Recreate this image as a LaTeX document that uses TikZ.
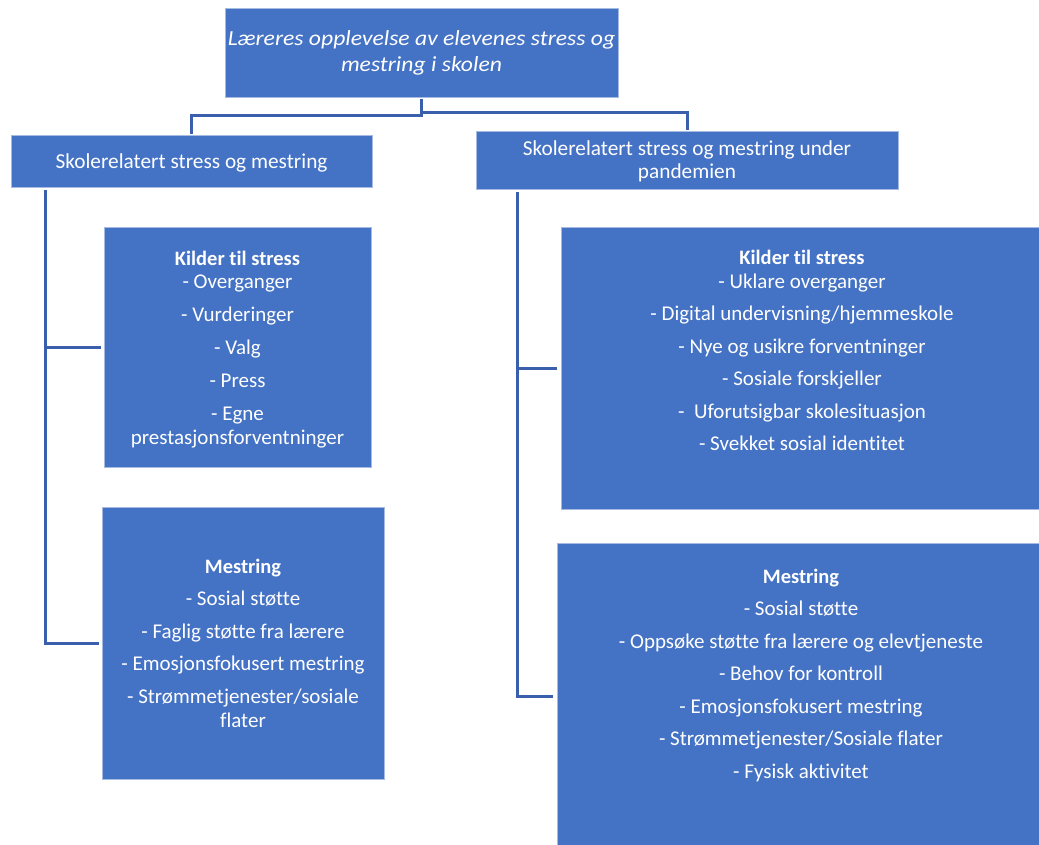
\documentclass[tikz,border=0pt]{standalone}
\usepackage{fontspec}
\setmainfont[Ligatures=NoCommon]{Carlito}
\usetikzlibrary{calc}
\definecolor{boxblue}{HTML}{4472C4}
\definecolor{boxedge}{RGB}{165,187,226}
\definecolor{linkblue}{RGB}{58,95,172}
\tikzset{
  box/.style={fill=boxblue, draw=boxedge, line width=0.8pt, inner sep=0pt, outer sep=0pt, anchor=north west},
  txt/.style={text=white, align=center, inner sep=0pt, anchor=north, font=\fontsize{21}{24}\selectfont},
  conn/.style={draw=linkblue, line width=3pt}
}
\newcommand{\fl}{\rule{0pt}{17pt}}
\newcommand{\ttl}[1]{{\fontsize{20.5}{24}\selectfont\bfseries #1}}
\begin{document}
\begin{tikzpicture}[x=1pt,y=-1pt]
\clip (0,0) rectangle (1039,844);
\fill[white] (0,0) rectangle (1039,844);
% boxes
\node[box, minimum width=393pt, minimum height=89pt] (top) at (225,8) {};
\node[box, minimum width=361pt, minimum height=52pt] (h1) at (11,135) {};
\node[box, minimum width=422pt, minimum height=58pt] (h2) at (476,131) {};
\node[box, minimum width=267pt, minimum height=240pt] (k1) at (104,227) {};
\node[box, minimum width=282pt, minimum height=272pt] (m1) at (102,507) {};
\node[box, minimum width=483pt, minimum height=282pt] (k2) at (561,227) {};
\node[box, minimum width=489pt, minimum height=306pt] (m2) at (557,543) {};
% texts
\node[txt, font=\fontsize{21.5}{24}\selectfont\itshape\addfontfeature{FakeStretch=1.1}] (ttop) at (421.5,28)
  {\fl Læreres opplevelse av elevenes stress og\\[2pt] mestring i skolen};
\node[txt, font=\fontsize{21.3}{24}\selectfont] (th1) at (191.5,151) {\fl Skolerelatert stress og mestring};
\node[txt, font=\fontsize{21.3}{24}\selectfont] (th2) at (687,138) {\fl Skolerelatert stress og mestring under\\[-1pt] pandemien};
\node[txt] (tk1) at (237.5,248)
  {\fl\ttl{Kilder til stress}\\[-1pt]
   - Overganger\\[9pt]
   - Vurderinger\\[9pt]
   - Valg\\[9pt]
   - Press\\[9pt]
   - Egne\\
   prestasjonsforventninger};
\node[txt] (tm1) at (243,556)
  {\fl\ttl{Mestring}\\[8.5pt]
   - Sosial støtte\\[8.5pt]
   - Faglig støtte fra lærere\\[8.5pt]
   - Emosjonsfokusert mestring\\[8.5pt]
   - Strømmetjenester/sosiale\\
   flater};
\node[txt] (tk2) at (802,247)
  {\fl\ttl{Kilder til stress}\\[0pt]
   - Uklare overganger\\[8.5pt]
   - Digital undervisning/hjemmeskole\\[8.5pt]
   - Nye og usikre forventninger\\[8.5pt]
   - Sosiale forskjeller\\[8.5pt]
   -\ \ Uforutsigbar skolesituasjon\\[8.5pt]
   - Svekket sosial identitet};
\node[txt] (tm2) at (801,566)
  {\fl\ttl{Mestring}\\[8.5pt]
   - Sosial støtte\\[8.5pt]
   - Oppsøke støtte fra lærere og elevtjeneste\\[8.5pt]
   - Behov for kontroll\\[8.5pt]
   - Emosjonsfokusert mestring\\[8.5pt]
   - Strømmetjenester/Sosiale flater\\[8.5pt]
   - Fysisk aktivitet};
% connectors
\draw[conn] ($(top.south)+(0,2)$) |- ($(h1.north)+(0,-20)$) -- ($(h1.north)+(0,-1)$);
\draw[conn] ($(top.south)+(0,15)$) -| ($(h2.north)+(0,-1)$);
\coordinate (lv) at ($(h1.south west)+(34,3)$);
\coordinate (rv) at ($(h2.south west)+(41,3)$);
\draw[conn] (lv) |- ($(m1.west)+(-3,0)$);
\draw[conn] (lv |- k1.west) -- ($(k1.west)+(-3,0)$);
\draw[conn] (rv) |- ($(m2.west)+(-4,0)$);
\draw[conn] (rv |- k2.west) -- ($(k2.west)+(-4,0)$);
\end{tikzpicture}
\end{document}
